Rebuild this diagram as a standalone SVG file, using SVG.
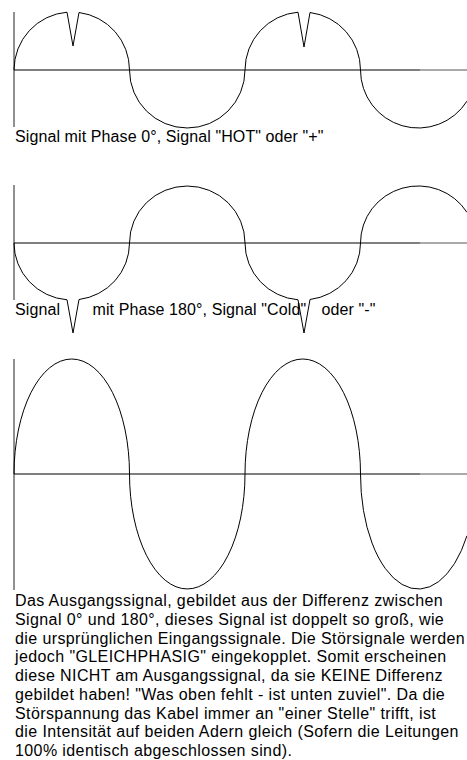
<svg xmlns="http://www.w3.org/2000/svg" width="467" height="760" viewBox="0 0 467 760">
<style>
.bg{fill:#ffffff}
.ax{stroke:#000;stroke-width:1.2;fill:none}
.ax2{stroke:#555;stroke-width:1;fill:none}
.vax{stroke:#222;stroke-width:1;fill:none}
.wave{stroke:#000;stroke-width:1;fill:none;stroke-linejoin:miter}
.cap{font-family:"Liberation Sans",Arial,sans-serif;font-size:16px;fill:#000;letter-spacing:0.1px}
.par{font-family:"Liberation Sans",Arial,sans-serif;font-size:16px;fill:#000;letter-spacing:0.4px}
</style>
<rect class="bg" x="0" y="0" width="467" height="760"/>
<g id="panel-hot">
<line class="vax" x1="14" y1="12" x2="14" y2="127"/>
<line class="ax" x1="14" y1="70" x2="420" y2="70"/>
<line class="ax2" x1="420" y1="70" x2="467" y2="70"/>
<path class="wave" d="M14,70 A57.75,58 0 0 1 67,12.2 L73,46 L79,12.5 A57.75,58 0 0 1 129.5,70 A57.75,58 0 0 0 245,70 A57.75,58 0 0 1 298,12.2 L304,47 L310,12.5 A57.75,58 0 0 1 360.5,70 A57.75,58 0 0 0 467,101.1"/>
<text class="cap" x="15" y="142">Signal mit Phase 0°, Signal "HOT" oder "+"</text>
</g>
<g id="panel-cold">
<line class="vax" x1="14" y1="185" x2="14" y2="300"/>
<line class="ax" x1="14" y1="243" x2="420" y2="243"/>
<line class="ax2" x1="420" y1="243" x2="467" y2="243"/>
<path class="wave" d="M14,243 A57.75,57 0 0 0 67,299.8 L73,333 L79,299.5 A57.75,57 0 0 0 129.5,243 A57.75,57 0 0 1 245,243 A57.75,57 0 0 0 298,299.8 L304,333 L310,299.5 A57.75,57 0 0 0 360.5,243 A57.75,57 0 0 1 467,212.4"/>
<text class="cap" x="15" y="315">Signal</text>
<text class="cap" x="92.5" y="315">mit Phase 180°, Signal "Cold"</text>
<text class="cap" x="321.5" y="315">oder "-"</text>
</g>
<g id="panel-out">
<line class="vax" x1="14" y1="359" x2="14" y2="590"/>
<line class="ax" x1="14" y1="474" x2="420" y2="474"/>
<line class="ax2" x1="420" y1="474" x2="467" y2="474"/>
<path class="wave" d="M14,474 A57.75,115 0 0 1 129.5,474 A57.75,115 0 0 0 245,474 A57.75,115 0 0 1 360.5,474 A57.75,115 0 0 0 467,535.7"/>
</g>
<g id="description">
<text class="par" x="15" y="606">Das Ausgangssignal, gebildet aus der Differenz zwischen</text>
<text class="par" x="15" y="624.75">Signal 0° und 180°, dieses Signal ist doppelt so groß, wie</text>
<text class="par" x="15" y="643.5">die ursprünglichen Eingangssignale. Die Störsignale werden</text>
<text class="par" x="15" y="662.25">jedoch "GLEICHPHASIG" eingekopplet. Somit erscheinen</text>
<text class="par" x="15" y="681">diese NICHT am Ausgangssignal, da sie KEINE Differenz</text>
<text class="par" x="15" y="699.75">gebildet haben! "Was oben fehlt - ist unten zuviel". Da die</text>
<text class="par" x="15" y="718.5">Störspannung das Kabel immer an "einer Stelle" trifft, ist</text>
<text class="par" x="15" y="737.25">die Intensität auf beiden Adern gleich (Sofern die Leitungen</text>
<text class="par" x="15" y="756">100% identisch abgeschlossen sind).</text>
</g>
</svg>
